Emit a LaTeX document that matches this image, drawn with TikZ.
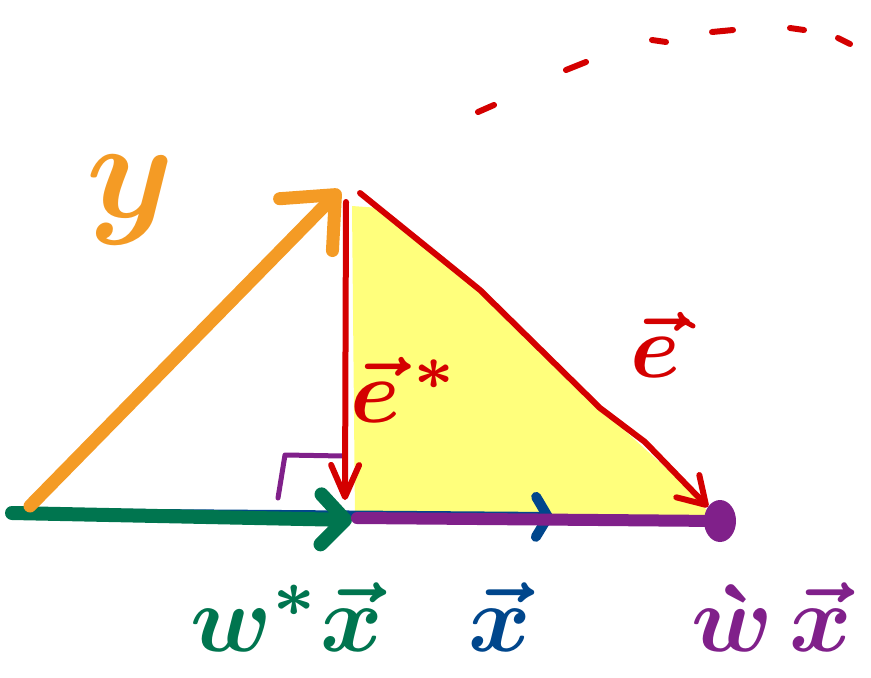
\documentclass[tikz,border=0pt]{standalone}
\usepackage{bm}
\usetikzlibrary{arrows.meta}
\definecolor{ocra}{HTML}{F49B25}
\definecolor{verde}{HTML}{00754F}
\definecolor{blu}{HTML}{00468C}
\definecolor{viola}{HTML}{80208A}
\definecolor{rosso}{HTML}{D40000}
\definecolor{giallo}{HTML}{FFFF7C}
\begin{document}
\begin{tikzpicture}[x=1pt,y=-1pt,line join=round,line cap=round,
    vett/.style={line width=#1},
    punta/.style={-{Straight Barb[round,#1]}},
    etich/.style={inner sep=0pt,scale=#1}]

  \useasboundingbox (0,0) rectangle (871,678);

  % ---- i punti del disegno ------------------------------------------------
  \coordinate (O)  at (12,513);
  \coordinate (Oy) at (30,506);
  \coordinate (Y)  at (340,190);
  \coordinate (E0) at (346,202);
  \coordinate (F)  at (345,500);
  \coordinate (D0) at (360,193);
  \coordinate (P)  at (708,507);
  \coordinate (WX) at (352,520);
  \coordinate (X)  at (553,517);
  \coordinate (V0) at (357,518);
  \coordinate (Pb) at (720,521);

  % ---- il triangolo giallo ------------------------------------------------
  \fill[giallo] (352,206) -- (355,518) -- (718,524) -- (690,490)
    -- (600,408) -- (480,290) -- (380,208) -- cycle;

  % ---- i vettori sulla retta ----------------------------------------------
  \draw[blu,vett=10,punta={length=12pt,width=40pt}] (O) -- (X);
  \draw[verde,vett=14,punta={length=24pt,width=50pt}] (O) -- (WX);
  \draw[ocra,vett=13,punta={length=42pt,width=74pt}] (Oy) -- (Y);
  \draw[viola,vett=12] (V0) -- (Pb);
  \fill[viola] (Pb) ellipse [x radius=16,y radius=21];

  % ---- angolo retto -------------------------------------------------------
  \draw[viola,vett=5] (278,498) -- (285,455) -- (343,456);

  % ---- gli errori ---------------------------------------------------------
  \draw[rosso,vett=6,punta={length=32pt,width=28pt}] (E0) -- (F);
  \draw[rosso,vett=6,punta={length=26pt,width=32pt}] (D0) -- (480,290)
    -- (600,408) -- (645,442) -- (P);

  % ---- l'arco tratteggiato ------------------------------------------------
  \foreach \xa/\ya/\xb/\yb in {478/112/494/105, 566/70/586/62, 652/40/666/42,
      712/32/733/30, 790/28/804/30, 838/38/850/44}
    \draw[rosso,vett=6] (\xa,\ya) -- (\xb,\yb);
  \draw[rosso,vett=5] (684,321) -- (693,326);

  % ---- le etichette -------------------------------------------------------
  \node[etich=14,text=ocra] (ly) at (130,200) {$\bm{y}$};
  \node[etich=9,text=rosso] (les) at (405,390) {$\bm{\vec{e}^{\,*}}$};
  \node[etich=9,text=rosso] (le) at (655,345) {$\bm{\vec{e}}$};
  \node[etich=9.5,text=verde] (lwx) at (287,617) {$\bm{w^{*}\vec{x}}$};
  \node[etich=9.5,text=blu] (lx) at (500,617) {$\bm{\vec{x}}$};
  \node[etich=9.5,text=viola] (lvx) at (772,617) {$\bm{\grave{w}\,\vec{x}}$};

\end{tikzpicture}
\end{document}
